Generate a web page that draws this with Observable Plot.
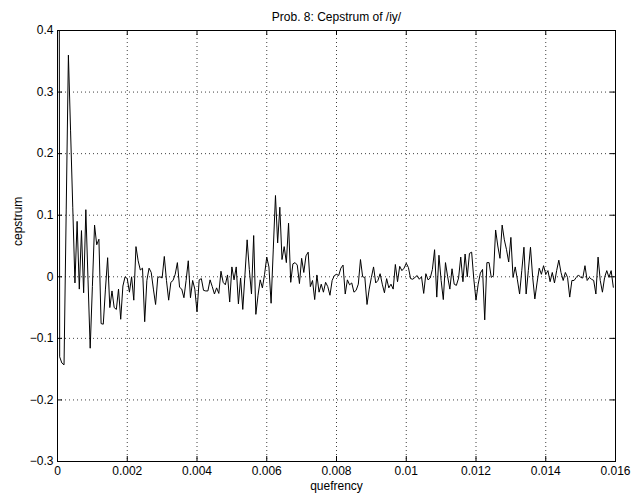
<!DOCTYPE html>
<html><head><meta charset="utf-8">
<script src="https://cdn.jsdelivr.net/npm/d3@7"></script>
<script src="https://cdn.jsdelivr.net/npm/@observablehq/plot@0.6"></script>
<style>body{margin:0;background:#fff} #chart svg{display:block}</style>
</head><body><div id="chart"></div>
<script>
const title = "Prob. 8: Cepstrum of /iy/";
const xLabel = "quefrency";
const yLabel = "cepstrum";
const sampleRate = 16000;
const cepstrum = [
 3.0,-0.13,-0.14,-0.143,0.11,0.36,0.237,0.113,-0.01,0.09,
 -0.02,0.075,-0.026,0.109,-0.005,-0.116,-0.016,0.084,0.052,0.061,
 -0.076,-0.077,-0.02,0.031,-0.05,-0.023,-0.05,-0.053,-0.02,-0.069,
 -0.015,0.0,-0.003,-0.025,0.0,-0.038,0.049,0.026,0.011,0.014,
 -0.073,-0.006,0.014,0.007,-0.02,-0.045,-0.001,0.0,-0.002,0.033,
 -0.006,-0.038,-0.009,-0.006,0.004,0.023,-0.017,-0.02,-0.034,-0.006,
 0.026,-0.034,-0.006,-0.02,-0.057,-0.005,-0.003,-0.022,-0.023,-0.023,
 -0.005,-0.016,-0.028,-0.018,-0.027,0.009,-0.009,-0.013,0.003,-0.041,
 0.016,-0.005,0.016,-0.044,-0.002,-0.053,0.003,0.06,0.012,-0.028,
 0.067,-0.061,-0.03,-0.005,-0.018,0.004,0.032,0.016,-0.043,0.045,
 0.132,0.055,0.113,0.028,0.049,0.023,0.087,-0.009,0.021,0.023,
 0.019,-0.011,0.03,0.007,0.034,0.04,-0.016,-0.006,-0.037,0.003,
 -0.025,-0.012,-0.025,-0.009,-0.016,-0.03,-0.006,0.002,0.004,0.002,
 0.014,0.019,-0.028,-0.005,-0.013,-0.01,-0.025,-0.022,-0.012,0.028,
 0.0,-0.001,-0.045,-0.02,-0.001,0.016,-0.01,-0.006,0.005,-0.012,
 -0.026,-0.003,-0.018,-0.012,-0.02,0.02,-0.008,0.017,0.01,0.014,
 0.022,0.015,-0.003,-0.004,-0.001,0.002,-0.004,0.0,-0.027,0.005,
 -0.005,-0.002,0.012,0.044,-0.033,0.035,-0.006,-0.037,0.023,0.0,
 -0.02,0.013,-0.012,-0.014,-0.002,0.032,-0.008,0.037,0.0,0.038,
 0.04,-0.004,-0.038,-0.012,0.006,0.012,-0.07,0.023,0.023,-0.001,
 0.002,0.076,0.05,0.03,0.084,0.06,0.044,0.024,0.064,-0.001,
 0.016,-0.005,-0.028,0.01,0.048,-0.028,0.01,0.048,-0.001,-0.036,
 -0.01,0.014,0.004,0.018,0.004,0.01,-0.008,0.007,-0.01,0.01,
 0.027,0.007,-0.006,0.007,-0.001,-0.033,-0.006,-0.006,-0.001,0.003,
 -0.001,-0.002,0.018,-0.006,-0.001,-0.004,-0.006,-0.028,0.032,-0.006,
 -0.025,-0.001,0.01,-0.001,0.01,-0.017
];
const xTicks = [0, 0.002, 0.004, 0.006, 0.008, 0.01, 0.012, 0.014, 0.016];
const xTickLabels = ["0", "0.002", "0.004", "0.006", "0.008", "0.01", "0.012", "0.014", "0.016"];
const yTicks = [-0.3, -0.2, -0.1, 0, 0.1, 0.2, 0.3, 0.4];
const yTickLabels = ["\u22120.3", "\u22120.2", "\u22120.1", "0", "0.1", "0.2", "0.3", "0.4"];

const data = cepstrum.map((c, n) => ({q: n / sampleRate, c}));
const fx = d => xTickLabels[xTicks.indexOf(d)];
const fy = d => yTickLabels[yTicks.indexOf(d)];

const W = 639, H = 499, mT = 30, mB = 38, mL = 57, mR = 24;
const frameW = W - mL - mR, frameH = H - mT - mB;
const font = "'Liberation Sans', Arial, Helvetica, sans-serif";

const chart = Plot.plot({
  width: W, height: H,
  marginTop: mT, marginBottom: mB, marginLeft: mL, marginRight: mR,
  style: {fontFamily: font, fontSize: "12px", background: "#fff", color: "#000", overflow: "visible"},
  x: {domain: [0, 0.016], label: null},
  y: {domain: [-0.3, 0.4], label: null},
  marks: [
    Plot.gridX(xTicks, {stroke: "#000", strokeOpacity: 0.75, strokeDasharray: "1,3"}),
    Plot.gridY(yTicks, {stroke: "#000", strokeOpacity: 0.75, strokeDasharray: "1,3"}),
    Plot.line(data, {x: "q", y: "c", stroke: "#000", strokeWidth: 1, clip: true}),
    Plot.frame({stroke: "#000", strokeWidth: 1}),
    Plot.tickX(xTicks, {x: d => d, insetTop: frameH - 5, stroke: "#000"}),
    Plot.tickX(xTicks, {x: d => d, insetBottom: frameH - 5, stroke: "#000"}),
    Plot.tickY(yTicks, {y: d => d, insetRight: frameW - 5, stroke: "#000"}),
    Plot.tickY(yTicks, {y: d => d, insetLeft: frameW - 5, stroke: "#000"}),
    Plot.axisX(xTicks, {anchor: "bottom", tickSize: 0, tickPadding: 5, tickFormat: fx, label: null, fontSize: 12}),
    Plot.axisY(yTicks, {anchor: "left", tickSize: 0, tickPadding: 4, tickFormat: fy, label: null, fontSize: 12}),
    Plot.text([title], {text: d => d, frameAnchor: "top", dy: -18, fontSize: 12, fill: "#000"}),
    Plot.text([xLabel], {text: d => d, frameAnchor: "bottom", dy: 28, fontSize: 12, fill: "#000"}),
    Plot.text([yLabel], {text: d => d, frameAnchor: "left", dx: -39, rotate: -90, fontSize: 12, fill: "#000"})
  ]
});
document.getElementById("chart").appendChild(chart);
</script>
</body></html>
